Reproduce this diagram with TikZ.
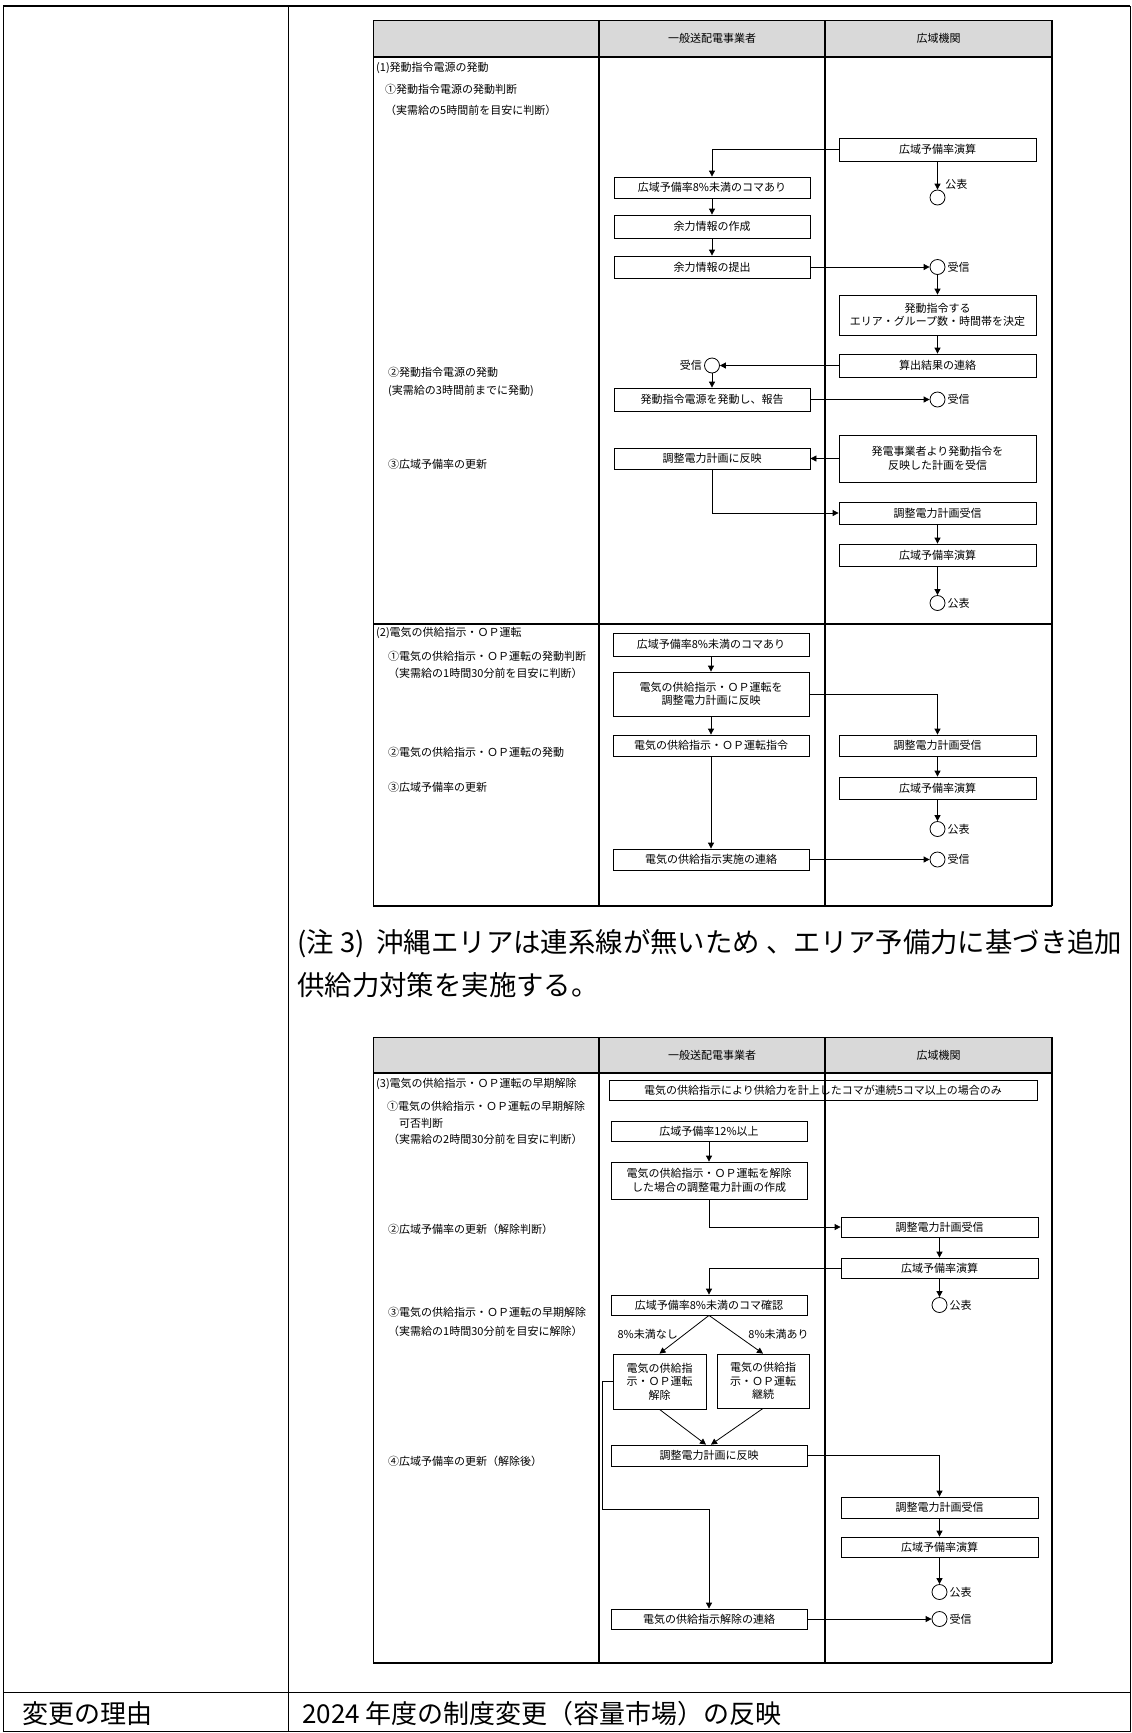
\documentclass[tikz,border=0pt]{standalone}
\usepackage{fontspec}
\setmainfont{Noto Sans CJK JP}
\usetikzlibrary{arrows.meta}
\definecolor{hdr}{HTML}{D9D9D9}
\begin{document}
\begin{tikzpicture}[x=1pt,y=-1pt,
  dg/.style={font=\fontsize{11}{13.5}\selectfont},
  box/.style={draw, line width=0.8pt, inner sep=0pt, align=center, dg},
  lbox/.style={box, minimum width=196pt},
  rbox/.style={box, minimum width=197pt},
  circ/.style={circle, draw, line width=0.8pt, minimum size=15pt, inner sep=0pt},
  arr/.style={line width=0.8pt, -{Triangle[width=6pt,length=6pt]}},
  side/.style={anchor=west, dg, inner sep=0pt},
  big/.style={font=\fontsize{26}{31}\selectfont, anchor=west, inner sep=0pt},
  note/.style={font=\fontsize{27.4}{32}\selectfont, anchor=west, inner sep=0pt},
  lbl/.style={dg, inner sep=2pt},
  thin/.style={line width=0.8pt},
  heavy/.style={line width=2pt}
]
\useasboundingbox (0,0) rectangle (1132,1733);
\fill[white] (0,0) rectangle (1132,1733);

% ===== outer table =====
\draw[thin] (3,6) rectangle (1130,1731);
\draw[heavy] (3,6) -- (1130,6);
\draw[thin] (288,6) -- (288,1731);
\draw[thin] (3,1692) -- (1130,1692);
\node[big] (reasonL) at (22,1714) {変更の理由};
\node[big] (reasonR) at (302,1714) {2024 年度の制度変更（容量市場）の反映};

% ===== note =====
\node[note] (note1) at (297,944) {(注 3)\hspace{12pt}沖縄エリアは連系線が無いため 、エリア予備力に基づき追加};
\node[note] (note2) at (297,985) {供給力対策を実施する。};

% ===== chart 1 frame =====
\fill[hdr] (373,20) rectangle (1052,57);
\draw[thin] (373,20) -- (1052,20);
\draw[thin] (373,20) -- (373,906);
\draw[heavy] (1052,20) -- (1052,906);
\draw[heavy] (373,57) -- (1052,57);
\draw[heavy] (373,906) -- (1052,906);
\draw[line width=1.6pt] (599,20) -- (599,906);
\draw[line width=1.6pt] (825,20) -- (825,906);
\draw[line width=1.6pt] (373,624) -- (1052,624);
\node[dg] (h1a) at (712,38.5) {一般送配電事業者};
\node[dg] (h1b) at (938.5,38.5) {広域機関};

% left texts chart 1
\node[side] (t11) at (376,68) {(1)発動指令電源の発動};
\node[side] (t12) at (385,89) {①発動指令電源の発動判断};
\node[side] (t13) at (385,110) {（実需給の5時間前を目安に判断）};
\node[side] (t14) at (388,372) {②発動指令電源の発動};
\node[side] (t15) at (388,391) {(実需給の3時間前までに発動)};
\node[side] (t16) at (388,464) {③広域予備率の更新};
\node[side] (t21) at (376,633) {(2)電気の供給指示・ＯＰ運転};
\node[side] (t22) at (388,656) {①電気の供給指示・ＯＰ運転の発動判断};
\node[side] (t23) at (388,673) {（実需給の1時間30分前を目安に判断）};
\node[side] (t24) at (388,752) {②電気の供給指示・ＯＰ運転の発動};
\node[side] (t25) at (388,787) {③広域予備率の更新};

% boxes chart 1 section 1
\node[rbox, minimum height=23pt] (A1) at (937.5,149.5) {広域予備率演算};
\node[lbox, minimum height=21pt] (A2) at (712,187.5) {広域予備率8\%未満のコマあり};
\node[circ, label={[lbl,anchor=south west]north east:公表}] (C1) at (937.5,197.5) {};
\node[lbox, minimum height=23pt] (A3) at (712,226.5) {余力情報の作成};
\node[lbox, minimum height=22pt] (A4) at (712,267) {余力情報の提出};
\node[circ, label={[lbl]east:受信}] (C2) at (937.5,267) {};
\node[rbox, minimum height=40pt] (A5) at (937.5,315) {発動指令する\\エリア・グループ数・時間帯を決定};
\node[rbox, minimum height=23pt] (A6) at (937.5,365.5) {算出結果の連絡};
\node[circ, label={[lbl]west:受信}] (C3) at (712,365.5) {};
\node[lbox, minimum height=23pt] (A7) at (712,399.5) {発動指令電源を発動し、報告};
\node[circ, label={[lbl]east:受信}] (C4) at (937.5,399.5) {};
\node[rbox, minimum height=47pt] (A8) at (937.5,458.5) {発電事業者より発動指令を\\反映した計画を受信};
\node[lbox, minimum height=21pt] (A9) at (712,458.5) {調整電力計画に反映};
\node[rbox, minimum height=22pt] (A10) at (937.5,513) {調整電力計画受信};
\node[rbox, minimum height=22pt] (A11) at (937.5,555) {広域予備率演算};
\node[circ, label={[lbl]east:公表}] (C5) at (937.5,603) {};

\draw[arr] (A1.west) -| (A2.north);
\draw[arr] (A1.south) -- (C1.north);
\draw[arr] (A2.south) -- (A3.north);
\draw[arr] (A3.south) -- (A4.north);
\draw[arr] (A4.east) -- (C2.west);
\draw[arr] (C2.south) -- (A5.north);
\draw[arr] (A5.south) -- (A6.north);
\draw[arr] (A6.west) -- (C3.east);
\draw[arr] (C3.south) -- (A7.north);
\draw[arr] (A7.east) -- (C4.west);
\draw[arr] (A8.west) -- (A9.east);
\draw[arr] (A9.south) |- (A10.west);
\draw[arr] (A10.south) -- (A11.north);
\draw[arr] (A11.south) -- (C5.north);

% boxes chart 1 section 2
\node[lbox, minimum height=23pt] (B1) at (711,644.5) {広域予備率8\%未満のコマあり};
\node[lbox, minimum height=44pt] (B2) at (711,694) {電気の供給指示・ＯＰ運転を\\調整電力計画に反映};
\node[lbox, minimum height=21pt] (B3) at (711,745.5) {電気の供給指示・ＯＰ運転指令};
\node[lbox, minimum height=21pt] (B4) at (711,859.5) {電気の供給指示実施の連絡};
\node[rbox, minimum height=21pt] (B5) at (937.5,745.5) {調整電力計画受信};
\node[rbox, minimum height=22pt] (B6) at (937.5,788) {広域予備率演算};
\node[circ, label={[lbl]east:公表}] (C6) at (937.5,829) {};
\node[circ, label={[lbl]east:受信}] (C7) at (937.5,859.5) {};

\draw[arr] (B1.south) -- (B2.north);
\draw[arr] (B2.south) -- (B3.north);
\draw[arr] (B3.south) -- (B4.north);
\draw[arr] (B2.east) -| (B5.north);
\draw[arr] (B5.south) -- (B6.north);
\draw[arr] (B6.south) -- (C6.north);
\draw[arr] (B4.east) -- (C7.west);

% ===== chart 2 frame =====
\fill[hdr] (373,1037) rectangle (1052,1073);
\draw[thin] (373,1037) -- (1052,1037);
\draw[thin] (373,1037) -- (373,1663);
\draw[heavy] (1052,1037) -- (1052,1663);
\draw[heavy] (373,1073) -- (1052,1073);
\draw[heavy] (373,1663) -- (1052,1663);
\draw[line width=1.6pt] (599,1037) -- (599,1663);
\draw[line width=1.6pt] (825,1037) -- (825,1663);
\node[dg] (h2a) at (712,1055) {一般送配電事業者};
\node[dg] (h2b) at (938.5,1055) {広域機関};

% left texts chart 2
\node[side] (t31) at (376,1084) {(3)電気の供給指示・ＯＰ運転の早期解除};
\node[side] (t32) at (387,1106) {①電気の供給指示・ＯＰ運転の早期解除};
\node[side] (t33) at (399,1123) {可否判断};
\node[side] (t34) at (388,1139) {（実需給の2時間30分前を目安に判断）};
\node[side] (t35) at (388,1229) {②広域予備率の更新（解除判断）};
\node[side] (t36) at (388,1312) {③電気の供給指示・ＯＰ運転の早期解除};
\node[side] (t37) at (388,1331) {（実需給の1時間30分前を目安に解除）};
\node[side] (t38) at (388,1461) {④広域予備率の更新（解除後）};

% boxes chart 2
\node[box, minimum width=428pt, minimum height=20pt] (D0) at (823,1090) {電気の供給指示により供給力を計上したコマが連続5コマ以上の場合のみ};
\node[lbox, minimum height=20pt] (D1) at (709,1131) {広域予備率12\%以上};
\node[lbox, minimum height=37pt] (D2) at (709,1180.5) {電気の供給指示・ＯＰ運転を解除\\した場合の調整電力計画の作成};
\node[rbox, minimum height=20pt] (D3) at (939.5,1227) {調整電力計画受信};
\node[rbox, minimum height=20pt] (D4) at (939.5,1268) {広域予備率演算};
\node[circ, label={[lbl]east:公表}] (C8) at (939.5,1305) {};
\node[lbox, minimum height=20pt] (D5) at (709,1305) {広域予備率8\%未満のコマ確認};
\node[box, minimum width=93pt, minimum height=55pt] (D6) at (659.5,1381.5) {電気の供給指\\示・ＯＰ運転\\解除};
\node[box, minimum width=92pt, minimum height=54pt] (D7) at (763,1381) {電気の供給指\\示・ＯＰ運転\\継続};
\node[lbox, minimum height=21pt] (D8) at (709,1455.5) {調整電力計画に反映};
\node[rbox, minimum height=21pt] (D9) at (939.5,1507.5) {調整電力計画受信};
\node[rbox, minimum height=20pt] (D10) at (939.5,1547) {広域予備率演算};
\node[circ, label={[lbl]east:公表}] (C9) at (939.5,1592) {};
\node[lbox, minimum height=20pt] (D11) at (709,1619) {電気の供給指示解除の連絡};
\node[circ, label={[lbl]east:受信}] (C10) at (939.5,1619) {};

\draw[arr] (D1.south) -- (D2.north);
\draw[arr] (D2.south) |- (D3.west);
\draw[arr] (D3.south) -- (D4.north);
\draw[arr] (D4.south) -- (C8.north);
\draw[arr] (D4.west) -| (D5.north);
\draw[arr] (D5.south) -- node[dg, midway, anchor=east, xshift=-6pt, inner sep=0pt] {8\%未満なし} (D6.north);
\draw[arr] (D5.south) -- node[dg, midway, anchor=west, xshift=12pt, inner sep=0pt] {8\%未満あり} (D7.north);
\draw[arr] (D6.south) -- ([xshift=-3pt]D8.north);
\draw[arr] (D7.south) -- ([xshift=2pt]D8.north);
\draw[arr] (D8.east) -| (D9.north);
\draw[arr] (D9.south) -- (D10.north);
\draw[arr] (D10.south) -- (C9.north);
\draw[arr] (D6.west) -- ++(-10.5,0) -- ++(0,127.5) -| (D11.north);
\draw[arr] (D11.east) -- (C10.west);
\end{tikzpicture}
\end{document}
